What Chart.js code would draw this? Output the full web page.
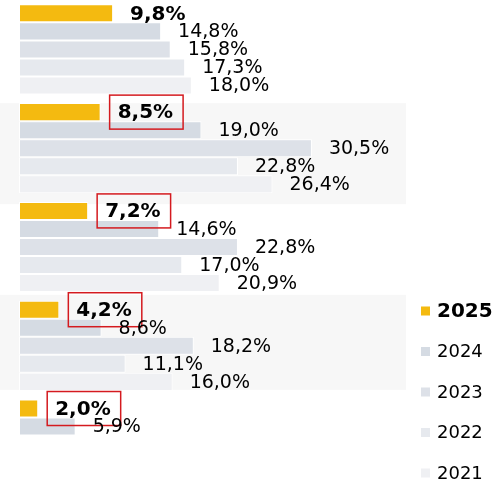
<!DOCTYPE html>
<html lang="de">
<head>
<meta charset="UTF-8">
<title>Anteile 2021–2025</title>
<script src="https://cdn.jsdelivr.net/npm/chart.js@4"></script>
<style>
  html, body { margin: 0; padding: 0; background: #fff; overflow: hidden; }
  #wrap { position: relative; width: 502px; height: 494px; }
</style>
</head>
<body>
<div id="wrap"><canvas id="chart"></canvas></div>
<script>
// five groups, one bar per year; the last group only has 2025 and 2024
const groups = ['G1', 'G2', 'G3', 'G4', 'G5'];
const years = ['2025', '2024', '2023', '2022', '2021'];
const v2025 = [9.8, 8.5, 7.2, 4.2, 2.0];
const v2024 = [14.8, 19.0, 14.6, 8.6, 5.9];
const v2023 = [15.8, 30.5, 22.8, 18.2, null];
const v2022 = [17.3, 22.8, 17.0, 11.1, null];
const v2021 = [18.0, 26.4, 20.9, 16.0, null];
const colors = ['#f4ba10', '#d5dbe3', '#dde1e8', '#e6e9ee', '#eff0f3'];
const boxedGroups = [1, 2, 3, 4];   // groups whose 2025 value gets a red frame

// grey backdrop behind every other group (offsets from the group centre, px)
const shading = [
  { group: 1, top: -45, bottom: 56 },
  { group: 3, top: -51, bottom: 44 }
];

const series = [v2025, v2024, v2023, v2022, v2021];
const fmt = v => v.toFixed(1).replace('.', ',') + '%';
const FONT = '"DejaVu Sans", Verdana, sans-serif';

const bands = {
  id: 'bands',
  beforeDatasetsDraw(chart) {
    const { ctx, chartArea, scales } = chart;
    ctx.save();
    ctx.fillStyle = '#f7f7f7';
    shading.forEach(s => {
      const c = scales.y.getPixelForValue(s.group);
      ctx.fillRect(0, c + s.top, chartArea.right, s.bottom - s.top);
    });
    ctx.restore();
  }
};

const valueLabels = {
  id: 'valueLabels',
  afterDatasetsDraw(chart) {
    const { ctx } = chart;
    ctx.save();
    ctx.textBaseline = 'middle';
    ctx.fillStyle = '#000';
    chart.data.datasets.forEach((ds, di) => {
      const meta = chart.getDatasetMeta(di);
      meta.data.forEach((bar, i) => {
        const v = ds.data[i];
        if (v == null) return;
        const bold = di === 0;
        ctx.font = (bold ? 'bold 20px ' : '19px ') + FONT;
        const text = fmt(v);
        const tx = bar.x + 17;
        const ty = bar.y + 1;
        ctx.fillText(text, tx, ty);
        if (bold && boxedGroups.includes(i)) {
          const w = ctx.measureText(text).width;
          ctx.strokeStyle = '#d41a1f';
          ctx.lineWidth = 1.5;
          ctx.strokeRect(tx - 8, bar.y - 17, w + 18, 34);
        }
      });
    });
    ctx.restore();
  }
};

const sideLegend = {
  id: 'sideLegend',
  afterDraw(chart) {
    const { ctx } = chart;
    ctx.save();
    ctx.textBaseline = 'middle';
    years.forEach((y, i) => {
      const cy = 311 + i * 40.5;
      ctx.fillStyle = colors[i];
      ctx.fillRect(421, cy - 4.5, 9, 9);
      ctx.fillStyle = '#000';
      ctx.font = (i === 0 ? 'bold 20px ' : '18px ') + FONT;
      ctx.fillText(y, 437, cy + 1);
    });
    ctx.restore();
  }
};

new Chart(document.getElementById('chart'), {
  type: 'bar',
  data: {
    labels: groups,
    datasets: years.map((y, i) => ({
      label: y,
      data: series[i],
      backgroundColor: colors[i],
      borderColor: '#ffffff',
      borderWidth: 1,
      borderSkipped: false,
      categoryPercentage: 0.913,
      barPercentage: 1
    }))
  },
  options: {
    indexAxis: 'y',
    responsive: true,
    maintainAspectRatio: false,
    animation: false,
    layout: { padding: { left: 19, right: 96, top: 0, bottom: 0 } },
    scales: {
      x: { display: false, min: 0, max: 40.3 },
      y: { display: false }
    },
    plugins: {
      legend: { display: false },
      tooltip: { enabled: false }
    }
  },
  plugins: [bands, valueLabels, sideLegend]
});
</script>
</body>
</html>
